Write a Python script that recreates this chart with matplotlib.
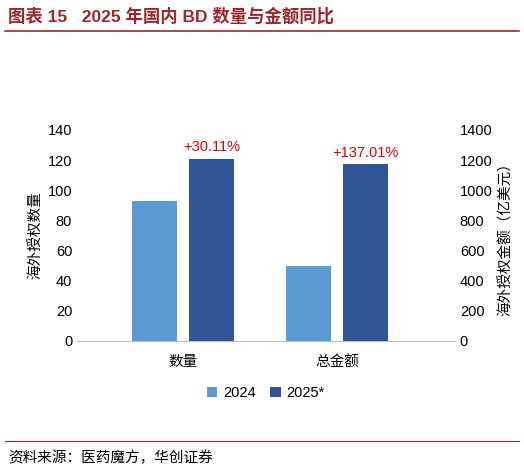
import matplotlib.pyplot as plt
import numpy as np
plt.rcParams['font.family'] = ['Liberation Sans', 'Noto Sans CJK SC', 'DejaVu Sans']

categories = ['数量', '总金额']
s2024_count = 93
s2025_count = 121
s2024_amt = 495
s2025_amt = 1173
labels = ['+30.11%', '+137.01%']
legend = ['2024', '2025*']

c1, c2 = '#5B9BD5', '#2F5597'
fig = plt.figure(figsize=(5.24, 4.72), dpi=100)
ax = fig.add_axes([77/524, 1-341/472, (455-77)/524, (341-130)/472])
ax2 = ax.twinx()
w = 0.29
off = 0.185
ax.bar(0 - off, s2024_count, w, color=c1, label=legend[0])
ax.bar(0 + off, s2025_count, w, color=c2, label=legend[1])
ax2.bar(1 - off, s2024_amt, w, color=c1)
ax2.bar(1 + off, s2025_amt, w, color=c2)
ax.text(0 + off, s2025_count + 3, labels[0], color='#E00000', ha='center', va='bottom', fontsize=10.5)
ax2.text(1 + off, s2025_amt + 30, labels[1], color='#E00000', ha='center', va='bottom', fontsize=10.5)
ax.set_xlim(-0.69, 1.766)
ax.set_ylim(0, 140); ax.set_yticks(range(0, 141, 20))
ax2.set_ylim(0, 1400); ax2.set_yticks(range(0, 1401, 200))
ax.set_xticks([0, 1]); ax.set_xticklabels(categories)
for a in (ax, ax2):
    for s in ['top', 'left', 'right']:
        a.spines[s].set_visible(False)
    a.tick_params(axis='y', length=0, labelsize=10.5)
ax.spines['bottom'].set_color('#BFBFBF')
ax2.spines['bottom'].set_visible(False)
ax.tick_params(axis='x', length=0, labelsize=10.5, pad=10)
ax.set_ylabel('海外授权数量', fontsize=10.5)
ax2.set_ylabel('海外授权金额（亿美元）', fontsize=10.5)
ax.legend(loc='upper center', bbox_to_anchor=(0.5, -0.15), ncol=2, frameon=False,
          fontsize=10.5, handlelength=0.7, handleheight=0.7, columnspacing=1.0, handletextpad=0.4)
fig.text(8/524, 1-16/472, '图表 15   2025 年国内 BD 数量与金额同比', color='#A0262A',
         fontsize=12.5, fontweight='bold', va='center')
fig.add_artist(plt.Line2D([5/524, 519/524], [1-31/472, 1-31/472], color='#A0262A', lw=1.2))
fig.add_artist(plt.Line2D([5/524, 519/524], [1-441/472, 1-441/472], color='#A0262A', lw=0.8))
fig.text(8/524, 1-458/472, '资料来源：医药魔方，华创证券', fontsize=10.5, style='italic', va='center')
fig.savefig('out.png', dpi=100)
